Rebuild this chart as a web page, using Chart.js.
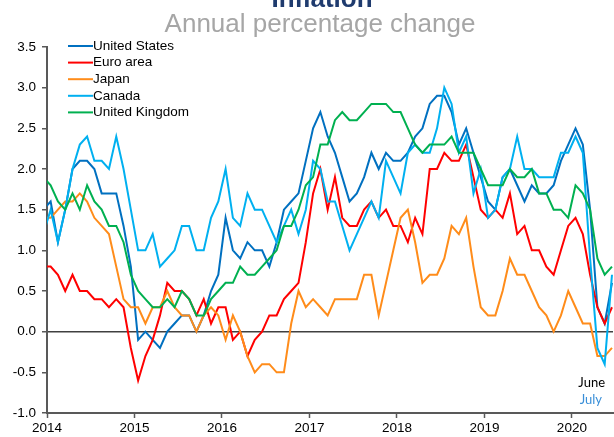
<!DOCTYPE html>
<html>
<head>
<meta charset="utf-8">
<script src="https://cdn.jsdelivr.net/npm/chart.js@4.4.1/dist/chart.umd.min.js"></script>
<style>
  html, body { margin: 0; padding: 0; background: #fff; }
  canvas { display: block; }
</style>
</head>
<body>
<canvas id="chart" width="614" height="437"></canvas>
<script>
// --- DATA ---
// monthly, Dec 2013 .. Jun 2020 (Dec 2013 only feeds the clipped first segment)
const months = [];
for (let y = 2013, m = 11; y < 2020 || m <= 5; ) {
  months.push({ year: y, month: m });
  m++; if (m > 11) { m = 0; y++; }
}

const seriesNames = ['United States', 'Euro area', 'Japan', 'Canada', 'United Kingdom'];
const seriesColors = ['#0070C0', '#FF0000', '#FF8C1A', '#00B0F0', '#00B050'];

const unitedStates = [1.5,
  1.6, 1.1, 1.5, 2.0, 2.1, 2.1, 2.0, 1.7, 1.7, 1.7, 1.3, 0.8,
  -0.1, 0.0, -0.1, -0.2, 0.0, 0.1, 0.2, 0.2, 0.0, 0.2, 0.5, 0.7,
  1.4, 1.0, 0.9, 1.1, 1.0, 1.0, 0.8, 1.1, 1.5, 1.6, 1.7, 2.1,
  2.5, 2.7, 2.4, 2.2, 1.9, 1.6, 1.7, 1.9, 2.2, 2.0, 2.2, 2.1,
  2.1, 2.2, 2.4, 2.5, 2.8, 2.9, 2.9, 2.7, 2.3, 2.5, 2.2, 1.9,
  1.6, 1.5, 1.9, 2.0, 1.8, 1.6, 1.8, 1.7, 1.7, 1.8, 2.1, 2.3,
  2.5, 2.3, 1.5, 0.3, 0.1, 0.6];

const euroArea = [0.8,
  0.8, 0.7, 0.5, 0.7, 0.5, 0.5, 0.4, 0.4, 0.3, 0.4, 0.3, -0.2,
  -0.6, -0.3, -0.1, 0.2, 0.6, 0.5, 0.5, 0.4, 0.2, 0.4, 0.1, 0.3,
  0.3, -0.1, 0.0, -0.3, -0.1, 0.0, 0.2, 0.2, 0.4, 0.5, 0.6, 1.1,
  1.7, 2.0, 1.5, 1.9, 1.4, 1.3, 1.3, 1.5, 1.6, 1.4, 1.5, 1.3,
  1.3, 1.1, 1.4, 1.2, 2.0, 2.0, 2.2, 2.1, 2.1, 2.3, 1.9, 1.5,
  1.4, 1.5, 1.4, 1.7, 1.2, 1.3, 1.0, 1.0, 0.8, 0.7, 1.0, 1.3,
  1.4, 1.2, 0.7, 0.3, 0.1, 0.3];

const japan = [1.4,
  1.4, 1.5, 1.6, 1.6, 1.7, 1.6, 1.4, 1.3, 1.2, 0.8, 0.4, 0.3,
  0.3, 0.1, 0.3, 0.3, 0.5, 0.3, 0.2, 0.2, 0.0, 0.2, 0.3, 0.2,
  -0.1, 0.2, 0.0, -0.3, -0.5, -0.4, -0.4, -0.5, -0.5, 0.1, 0.5, 0.3,
  0.4, 0.3, 0.2, 0.4, 0.4, 0.4, 0.4, 0.7, 0.7, 0.2, 0.6, 1.0,
  1.4, 1.5, 1.1, 0.6, 0.7, 0.7, 0.9, 1.3, 1.2, 1.4, 0.8, 0.3,
  0.2, 0.2, 0.5, 0.9, 0.7, 0.7, 0.5, 0.3, 0.2, 0.0, 0.2, 0.5,
  0.3, 0.1, 0.1, -0.3, -0.3, -0.2];

const canada = [1.2,
  1.5, 1.1, 1.5, 2.0, 2.3, 2.4, 2.1, 2.1, 2.0, 2.4, 2.0, 1.5,
  1.0, 1.0, 1.2, 0.8, 0.9, 1.0, 1.3, 1.3, 1.0, 1.0, 1.4, 1.6,
  2.0, 1.4, 1.3, 1.7, 1.5, 1.5, 1.3, 1.1, 1.3, 1.5, 1.2, 1.5,
  2.1, 2.0, 1.6, 1.6, 1.3, 1.0, 1.2, 1.4, 1.6, 1.4, 2.1, 1.9,
  1.7, 2.2, 2.3, 2.2, 2.2, 2.5, 3.0, 2.8, 2.2, 2.4, 1.7, 2.0,
  1.4, 1.5, 1.9, 2.0, 2.4, 2.0, 2.0, 1.9, 1.9, 1.9, 2.2, 2.2,
  2.4, 2.2, 0.9, -0.2, -0.4, 0.7];

const unitedKingdom = [1.9,
  1.8, 1.6, 1.5, 1.7, 1.5, 1.8, 1.6, 1.5, 1.3, 1.3, 1.1, 0.7,
  0.5, 0.4, 0.3, 0.3, 0.4, 0.3, 0.5, 0.4, 0.2, 0.2, 0.4, 0.5,
  0.6, 0.6, 0.8, 0.7, 0.7, 0.8, 0.9, 1.0, 1.3, 1.3, 1.5, 1.8,
  1.9, 2.3, 2.3, 2.6, 2.7, 2.6, 2.6, 2.7, 2.8, 2.8, 2.8, 2.7,
  2.7, 2.5, 2.3, 2.2, 2.3, 2.3, 2.3, 2.4, 2.2, 2.2, 2.2, 2.0,
  1.8, 1.8, 1.8, 2.0, 1.9, 1.9, 2.0, 1.7, 1.7, 1.5, 1.5, 1.4,
  1.8, 1.7, 1.5, 0.9, 0.7, 0.8];

const yearTicks = [2014, 2015, 2016, 2017, 2018, 2019, 2020];
const yTicks = [-1.0, -0.5, 0.0, 0.5, 1.0, 1.5, 2.0, 2.5, 3.0, 3.5];

const allSeries = [unitedStates, euroArea, japan, canada, unitedKingdom];

// --- CHART ---
const FONT = '"Liberation Sans", Arial, sans-serif';

function toPoints(vals) {
  // each observation sits in the middle of its month
  return vals.map((v, k) => ({ x: months[k].year + (months[k].month + 0.5) / 12, y: v }));
}

const overlay = {
  id: 'overlay',
  afterDraw(chart) {
    const c = chart.ctx;
    c.save();
    // title (cut off at the top edge, as in the original)
    c.textAlign = 'center';
    c.textBaseline = 'alphabetic';
    c.fillStyle = '#1F3B6E';
    c.font = 'bold 26px ' + FONT;
    c.fillText('Inflation', 322, 7);
    c.fillStyle = '#A6A6A6';
    c.font = '26px ' + FONT;
    c.fillText('Annual percentage change', 320, 32);

    // legend
    c.textAlign = 'left';
    c.textBaseline = 'middle';
    c.font = '13.5px ' + FONT;
    seriesNames.forEach((name, i) => {
      const y = 46 + i * 16.6;
      c.strokeStyle = seriesColors[i];
      c.lineWidth = 2;
      c.beginPath();
      c.moveTo(68, y);
      c.lineTo(93, y);
      c.stroke();
      c.fillStyle = '#000';
      c.fillText(name, 93, y);
    });

    // month notes
    const a = chart.chartArea;
    c.textAlign = 'right';
    c.font = '13px Lato, sans-serif';
    c.fillStyle = '#000';
    c.fillText('June', a.right - 8, chart.scales.y.getPixelForValue(-0.63));
    c.fillStyle = '#3A8FD8';
    c.fillText('July', a.right - 11, chart.scales.y.getPixelForValue(-0.84));
    c.restore();
  }
};

new Chart(document.getElementById('chart'), {
  type: 'line',
  data: {
    datasets: allSeries.map((vals, i) => ({
      label: seriesNames[i],
      data: toPoints(vals),
      borderColor: seriesColors[i],
      backgroundColor: seriesColors[i],
      borderWidth: 2,
      pointRadius: 0,
      tension: 0,
      order: allSeries.length - 1 - i,
    }))
  },
  options: {
    responsive: false,
    animation: false,
    events: [],
    layout: { padding: { top: 47, right: 1, bottom: 0, left: 0 } },
    plugins: { legend: { display: false }, tooltip: { enabled: false } },
    scales: {
      x: {
        type: 'linear',
        min: 2014,
        max: 2020.47,
        afterBuildTicks: s => { s.ticks = yearTicks.map(v => ({ value: v })); },
        afterFit: s => { s.height = 24; },
        ticks: { color: '#000', font: { family: FONT, size: 13.5 }, padding: 2, maxRotation: 0, callback: v => String(v) },
        grid: { drawOnChartArea: false, tickLength: 5, tickColor: '#595959', tickWidth: 1.5 },
        border: { color: '#595959', width: 2 }
      },
      y: {
        min: -1,
        max: 3.5,
        afterBuildTicks: s => { s.ticks = yTicks.map(v => ({ value: v })); },
        afterFit: s => { s.width = 47; },
        ticks: { color: '#000', font: { family: FONT, size: 13.5 }, padding: 6, callback: v => v.toFixed(1) },
        grid: {
          drawOnChartArea: true,
          color: c => (c.tick && c.tick.value === 0 ? '#404040' : 'rgba(0,0,0,0)'),
          lineWidth: 1.5,
          tickLength: 5,
          tickColor: '#595959',
          tickWidth: 1.5
        },
        border: { color: '#595959', width: 2 }
      }
    }
  },
  plugins: [overlay]
});
</script>
</body>
</html>
